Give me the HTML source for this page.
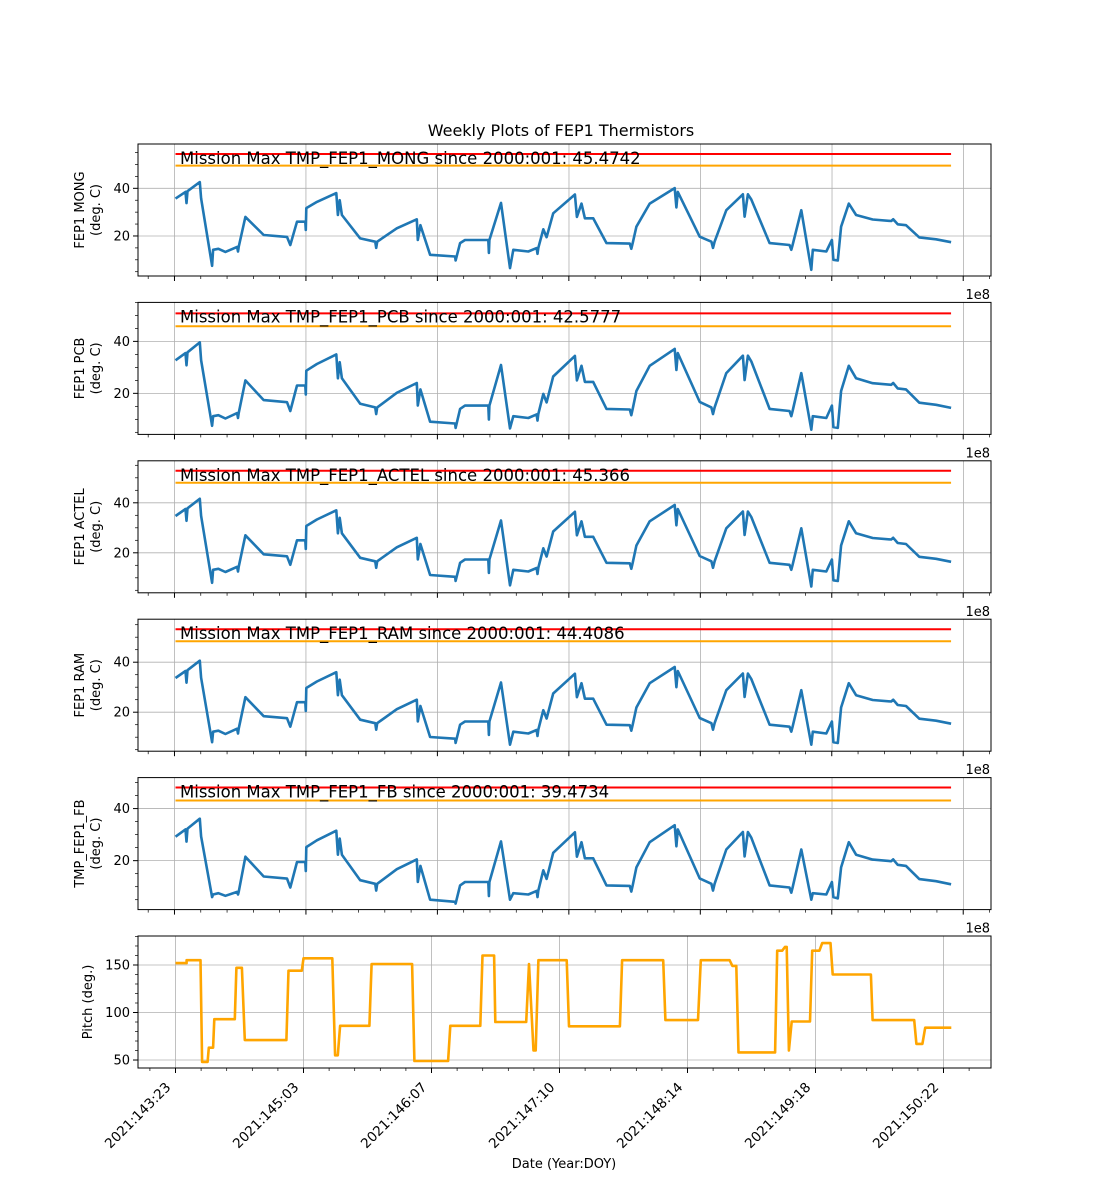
<!DOCTYPE html>
<html><head><meta charset="utf-8"><style>
html,body{margin:0;padding:0;background:#fff;}
svg{display:block;font-family:"DejaVu Sans","Liberation Sans",sans-serif;}
</style></head><body>
<svg id="chart" width="1100" height="1200" viewBox="0 0 1100 1200" xmlns="http://www.w3.org/2000/svg">
<rect width="1100" height="1200" fill="#fff"/>
<text x="561" y="136" font-size="16" text-anchor="middle" fill="#000">Weekly Plots of FEP1 Thermistors</text>
<text x="564" y="1168" font-size="13" text-anchor="middle" fill="#000">Date (Year:DOY)</text>
</svg>
<script>
// shared time axis (date-tick units from 2021:143:23)
const times = [0,0.078,0.086,0.094,0.190,0.200,0.286,0.294,0.335,0.390,0.481,0.488,0.494,0.546,0.689,0.871,0.897,0.949,1.014,1.018,1.022,1.105,1.256,1.269,1.283,1.300,1.443,1.560,1.568,1.576,1.729,1.885,1.893,1.913,1.989,2.184,2.188,2.223,2.262,2.444,2.448,2.452,2.543,2.613,2.639,2.756,2.821,2.828,2.834,2.873,2.899,2.951,3.120,3.136,3.172,3.198,3.263,3.367,3.549,3.561,3.572,3.601,3.705,3.900,3.913,3.924,4.095,4.187,4.199,4.212,4.303,4.433,4.446,4.472,4.498,4.641,4.797,4.811,4.821,4.889,4.967,4.979,5.084,5.128,5.140,5.174,5.200,5.260,5.317,5.447,5.591,5.607,5.642,5.707,5.811,5.942,6.059];
const mongValues = [35.7,38.5,33.8,38.8,42.6,35.8,7.5,14.2,14.6,13.3,15.4,13.5,15.4,28.0,20.4,19.6,16.2,26.0,26.0,22.5,31.7,34.3,38.0,28.8,35.0,28.8,19.0,17.6,15.0,17.6,23.2,27.0,18.3,24.5,12.1,11.4,9.7,17.0,18.3,18.3,12.9,18.3,33.9,6.5,14.2,13.5,14.9,12.5,15.0,22.8,19.5,29.5,37.4,28.0,33.6,27.4,27.4,17.0,16.8,14.6,17.0,23.9,33.6,40.1,32.0,38.5,19.7,17.6,15.0,17.6,30.8,37.5,28.1,37.5,35.3,17.0,16.2,14.2,16.2,30.8,5.8,14.2,13.5,18.3,10.0,9.7,23.9,33.6,28.8,26.9,26.3,27.0,24.9,24.5,19.4,18.6,17.4];
const pcbValues = [32.7,35.5,30.8,35.8,39.6,32.8,7.5,11.2,11.6,10.3,12.4,10.5,12.4,25.0,17.4,16.6,13.2,23.0,23.0,19.5,28.7,31.3,35.0,25.8,32.0,25.8,16.0,14.6,12.0,14.6,20.2,24.0,15.3,21.5,9.1,8.4,6.7,14.0,15.3,15.3,9.9,15.3,30.9,6.5,11.2,10.5,11.9,9.5,12.0,19.8,16.5,26.5,34.4,25.0,30.6,24.4,24.4,14.0,13.8,11.6,14.0,20.9,30.6,37.1,29.0,35.5,16.7,14.6,12.0,14.6,27.8,34.5,25.1,34.5,32.3,14.0,13.2,11.2,13.2,27.8,6.0,11.2,10.5,15.3,7.0,6.7,20.9,30.6,25.8,23.9,23.3,24.0,21.9,21.5,16.4,15.6,14.4];
const actelValues = [34.7,37.5,32.8,37.8,41.6,34.8,8.0,13.2,13.6,12.3,14.4,12.5,14.4,27.0,19.4,18.6,15.2,25.0,25.0,21.5,30.7,33.3,37.0,27.8,34.0,27.8,18.0,16.6,14.0,16.6,22.2,26.0,17.3,23.5,11.1,10.4,8.7,16.0,17.3,17.3,11.9,17.3,32.9,7.0,13.2,12.5,13.9,11.5,14.0,21.8,18.5,28.5,36.4,27.0,32.6,26.4,26.4,16.0,15.8,13.6,16.0,22.9,32.6,39.1,31.0,37.5,18.7,16.6,14.0,16.6,29.8,36.5,27.1,36.5,34.3,16.0,15.2,13.2,15.2,29.8,6.5,13.2,12.5,17.3,9.0,8.7,22.9,32.6,27.8,25.9,25.3,26.0,23.9,23.5,18.4,17.6,16.4];
const ramValues = [33.7,36.5,31.8,36.8,40.6,33.8,8.0,12.2,12.6,11.3,13.4,11.5,13.4,26.0,18.4,17.6,14.2,24.0,24.0,20.5,29.7,32.3,36.0,26.8,33.0,26.8,17.0,15.6,13.0,15.6,21.2,25.0,16.3,22.5,10.1,9.4,7.7,15.0,16.3,16.3,10.9,16.3,31.9,7.0,12.2,11.5,12.9,10.5,13.0,20.8,17.5,27.5,35.4,26.0,31.6,25.4,25.4,15.0,14.8,12.6,15.0,21.9,31.6,38.1,30.0,36.5,17.7,15.6,13.0,15.6,28.8,35.5,26.1,35.5,33.3,15.0,14.2,12.2,14.2,28.8,7.0,12.2,11.5,16.3,8.0,7.7,21.9,31.6,26.8,24.9,24.3,25.0,22.9,22.5,17.4,16.6,15.4];
const fbValues = [29.2,32.0,27.3,32.3,36.1,29.3,6.0,7.0,7.5,6.5,8.0,7.0,8.0,21.5,13.9,13.1,9.7,19.5,19.5,16.0,25.2,27.8,31.5,22.3,28.5,22.3,12.5,11.1,8.5,11.1,16.7,20.5,11.8,18.0,5.0,4.2,3.5,10.5,11.8,11.8,6.4,11.8,27.4,5.0,7.5,7.0,8.4,6.0,8.5,16.3,13.0,23.0,30.9,21.5,27.1,20.9,20.9,10.5,10.3,8.1,10.5,17.4,27.1,33.6,25.5,32.0,13.2,11.1,8.5,11.1,24.3,31.0,21.6,31.0,28.8,10.5,9.7,7.7,9.7,24.3,5.0,7.5,7.0,11.8,6.0,5.5,17.4,27.1,22.3,20.4,19.8,20.5,18.4,18.0,12.9,12.1,10.9];
const pitchTimes = [0,0.087,0.087,0.195,0.208,0.251,0.260,0.294,0.303,0.463,0.476,0.519,0.541,0.866,0.883,0.987,1.0,1.225,1.247,1.268,1.286,1.515,1.532,1.848,1.866,2.130,2.147,2.381,2.398,2.489,2.498,2.740,2.762,2.797,2.814,2.835,3.056,3.074,3.472,3.489,3.810,3.827,4.082,4.104,4.329,4.351,4.381,4.398,4.684,4.701,4.740,4.762,4.775,4.792,4.814,4.957,4.974,5.030,5.052,5.117,5.134,5.433,5.446,5.771,5.788,5.835,5.857,6.061];
const pitchValues = [152,152,155,155,48,48,63,63,93,93,147,147,71,71,144,144,157,157,55,55,86,86,151,151,49,49,86,86,160,160,90,90,151,60,60,155,155,85.5,85.5,155,155,92,92,155,155,149,149,58,58,165,165,169,169,60,90.5,90.5,165,165,173,173,140,140,92,92,67,67,84,84];
const panelNames = ["MONG","PCB","ACTEL","RAM","FB"];
const ylabelTop = ["FEP1 MONG","FEP1 PCB","FEP1 ACTEL","FEP1 RAM","TMP_FEP1_FB"];
const missionMax = ["45.4742","42.5777","45.366","44.4086","39.4734"];
const redLimits = [54.4,50.8,52.8,53.2,48.1];
const orangeLimits = [49.5,45.8,48.0,48.4,43.1];
const yMins = [3.2,4.2,4.0,4.4,1.2];
const yMaxs = [58.6,55.0,56.8,57.2,51.9];
const tempTicks = [20,40];
const pitchTicks = [50,100,150];
const dateTickTimes = [0,1,2,3,4,5,6];
const dateTickLabels = ["2021:143:23","2021:145:03","2021:146:07","2021:147:10","2021:148:14","2021:149:18","2021:150:22"];
const numTickTimes = [-0.008,1.019,2.047,3.074,4.101,5.129,6.156];

const NS="http://www.w3.org/2000/svg";
const svg=document.getElementById('chart');
const L=138,R=991,H=132,tMin=-0.293,tMax=6.371;
const tops=[144,302.4,460.8,619.2,777.6,936];
const seriesAll=[mongValues,pcbValues,actelValues,ramValues,fbValues];
function xs(t){return L+(t-tMin)/(tMax-tMin)*(R-L);}
function el(tag,attrs,parent){const e=document.createElementNS(NS,tag);for(const k in attrs)e.setAttribute(k,attrs[k]);(parent||svg).appendChild(e);return e;}
const defs=el('defs',{});

function drawPanel(i,top,yMin,yMax,ticks,minorStep,xTicks){
  const ys=v=>top+H-(v-yMin)/(yMax-yMin)*H;
  const g=el('g',{});
  
  
  const cp=el('clipPath',{id:'cp'+i},defs);
  el('rect',{x:L,y:top,width:R-L,height:H},cp);
  xTicks.forEach(t=>{const l=el('line',{x1:xs(t),x2:xs(t),y1:top,y2:top+H,stroke:'#b0b0b0','stroke-width':0.8},g);
    });
  ticks.forEach(v=>{const l=el('line',{x1:L,x2:R,y1:ys(v),y2:ys(v),stroke:'#b0b0b0','stroke-width':0.8},g);
    });
  return {g,ys};
}
function ticksX(g,top,xTicks){
  const sp=xTicks[1]-xTicks[0];
  for(let k=-2;k<=xTicks.length*5+5;k++){
    const t=xTicks[0]+k*sp/5; if(t<tMin||t>tMax) continue;
    const major=(k%5===0);
    el('line',{x1:xs(t),x2:xs(t),y1:top+H,y2:top+H+(major?5:3),stroke:'#000','stroke-width':major?1:0.7},g);
  }
}
function ticksY(g,top,ys,yMin,yMax,step,majors){
  for(let v=Math.ceil(yMin/step)*step;v<=yMax;v+=step){
    el('line',{x1:L,x2:L-(majors.includes(v)?5:3),y1:ys(v),y2:ys(v),stroke:'#000','stroke-width':majors.includes(v)?1:0.7},g);
  }
  majors.forEach(v=>{const t=el('text',{x:L-8,y:ys(v)+4.5,'font-size':13,'text-anchor':'end',fill:'#000'},g);t.textContent=v;
    });
}

for(let i=0;i<5;i++){
  const top=tops[i];
  const {g,ys}=drawPanel(i,top,yMins[i],yMaxs[i],tempTicks,5,numTickTimes);
  const r=el('line',{x1:xs(0),x2:xs(6.059),y1:ys(redLimits[i]),y2:ys(redLimits[i]),stroke:'#ff0000','stroke-width':2},g);
  
  const o=el('line',{x1:xs(0),x2:xs(6.059),y1:ys(orangeLimits[i]),y2:ys(orangeLimits[i]),stroke:'#ffa500','stroke-width':2},g);
  
  const vals=seriesAll[i];const n=Math.min(times.length,vals.length);
  let d='';for(let k=0;k<n;k++)d+=(k?'L':'M')+xs(times[k]).toFixed(1)+','+ys(vals[k]).toFixed(1);
  const p=el('path',{d:d,fill:'none',stroke:'#1f77b4','stroke-width':2.6,'stroke-linejoin':'round','clip-path':'url(#cp'+i+')'},g);
  
  const a=el('text',{x:180,y:top+20,'font-size':16.5,fill:'#000'},g);
  a.textContent='Mission Max TMP_FEP1_'+panelNames[i]+' since 2000:001: '+missionMax[i];
  
  el('rect',{x:L,y:top,width:R-L,height:H,fill:'none',stroke:'#000','stroke-width':1},g);
  ticksX(g,top,numTickTimes);
  ticksY(g,top,ys,yMins[i],yMaxs[i],5,tempTicks);
  const yl=el('text',{'font-size':13,'text-anchor':'middle',fill:'#000',transform:'translate(84,'+(top+H/2)+') rotate(-90)'},g);
  
  const s1=el('tspan',{x:0,y:0},yl);s1.textContent=ylabelTop[i];
  const s2=el('tspan',{x:0,y:16},yl);s2.textContent='(deg. C)';
  const e=el('text',{x:990,y:top+H+23,'font-size':13,'text-anchor':'end',fill:'#000'},g);e.textContent='1e8';
  
}
{
  const top=tops[5];
  const {g,ys}=drawPanel(5,top,41.6,180.5,pitchTicks,10,dateTickTimes);
  const n=Math.min(pitchTimes.length,pitchValues.length);
  let d='';for(let k=0;k<n;k++)d+=(k?'L':'M')+xs(pitchTimes[k]).toFixed(1)+','+ys(pitchValues[k]).toFixed(1);
  const p=el('path',{d:d,fill:'none',stroke:'#ffa500','stroke-width':2.6,'stroke-linejoin':'round','clip-path':'url(#cp5)'},g);
  
  el('rect',{x:L,y:top,width:R-L,height:H,fill:'none',stroke:'#000','stroke-width':1},g);
  ticksX(g,top,dateTickTimes);
  ticksY(g,top,ys,41.6,180.5,10,pitchTicks);
  const yl=el('text',{'font-size':13,'text-anchor':'middle',fill:'#000',transform:'translate(92,'+(top+H/2)+') rotate(-90)'},g);
  yl.textContent='Pitch (deg.)';
  
  dateTickTimes.forEach((t,k)=>{
    const x=xs(t)-4,y=top+H+20;
    const tl=el('text',{x:x,y:y,'font-size':13.5,'text-anchor':'end',fill:'#000',transform:'rotate(-45 '+x+' '+y+')'},g);
    tl.textContent=dateTickLabels[k];
    
  });
}
</script>
</body></html>
